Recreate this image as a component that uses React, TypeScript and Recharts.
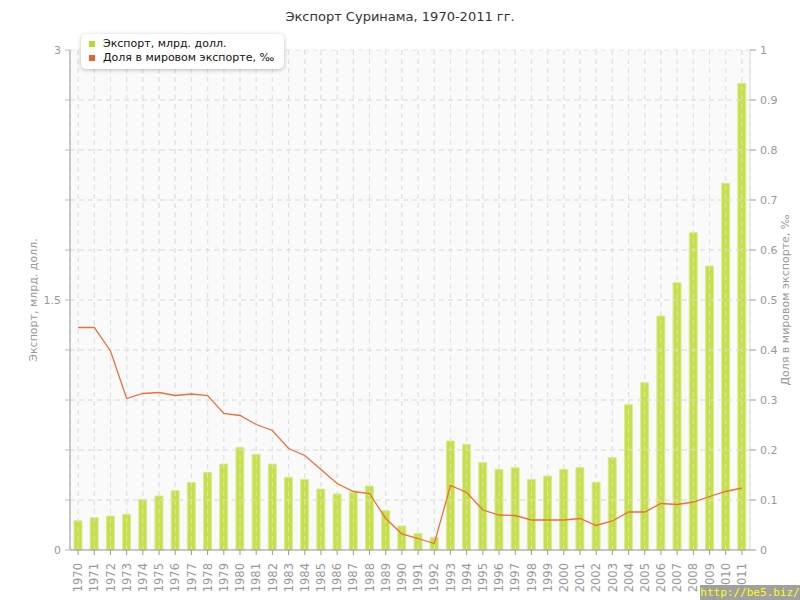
import React from 'react';
import { ComposedChart, Bar, Line, XAxis, YAxis, CartesianGrid, ReferenceLine } from 'recharts';

const years = ['1970','1971','1972','1973','1974','1975','1976','1977','1978','1979','1980','1981','1982','1983','1984','1985','1986','1987','1988','1989','1990','1991','1992','1993','1994','1995','1996','1997','1998','1999','2000','2001','2002','2003','2004','2005','2006','2007','2008','2009','2010','2011'];

const exportVals = [0.175,0.194,0.204,0.214,0.304,0.324,0.356,0.406,0.466,0.516,0.614,0.574,0.516,0.436,0.424,0.366,0.336,0.346,0.384,0.236,0.144,0.1,0.076,0.654,0.634,0.524,0.484,0.494,0.424,0.444,0.484,0.494,0.406,0.554,0.872,1.004,1.404,1.604,1.904,1.704,2.2,2.8];

const shareVals = [0.445,0.445,0.398,0.303,0.313,0.315,0.309,0.312,0.309,0.273,0.269,0.251,0.239,0.203,0.189,0.161,0.133,0.117,0.113,0.063,0.032,0.023,0.013,0.129,0.115,0.08,0.07,0.069,0.06,0.06,0.06,0.063,0.049,0.058,0.076,0.076,0.093,0.091,0.096,0.107,0.117,0.124];

const leftTicks = [0,0.3,0.6,0.9,1.2,1.5,1.8,2.1,2.4,2.7,3];
const leftLabels = [0,1.5,3];
const rightTicks = [0,0.1,0.2,0.3,0.4,0.5,0.6,0.7,0.8,0.9,1];

const data = years.map((y, i) => ({ year: y, exp: exportVals[i], share: shareVals[i] }));

const FONT = '"DejaVu Sans", Verdana, sans-serif';
const GRID = 'rgba(225,225,225,0.85)';

const XTick = (props: any) => {
  const { x, y, payload } = props;
  const ty = y + 6;
  return (
    <text x={x} y={ty} transform={`rotate(-90 ${x} ${ty})`} textAnchor="end" dy="0.36em" fontSize={11.5} fill="#999" fontFamily={FONT}>
      {payload.value}
    </text>
  );
};

export default function App() {
  return (
    <div style={{ position: 'absolute', left: 0, top: 0, width: 800, height: 600, background: '#fff', fontFamily: FONT }}>
      <div style={{ position: 'absolute', top: 9, left: 0, width: 800, textAlign: 'center', fontSize: 13, color: '#333', fontFamily: FONT }}>
        Экспорт Суринама, 1970-2011 гг.
      </div>
      <ComposedChart width={800} height={600} data={data} margin={{ top: 50, right: 0, bottom: 0, left: 0 }}>
        <CartesianGrid yAxisId="left" fill="#fafafa" stroke="#e4e4e4" strokeDasharray="5 4" horizontalValues={leftTicks} />
        <XAxis dataKey="year" interval={0} height={50} tick={<XTick />} tickSize={5} axisLine={{ stroke: '#999' }} tickLine={{ stroke: '#999' }} />
        <YAxis yAxisId="left" orientation="left" width={70} domain={[0, 3]} ticks={leftTicks} interval={0}
          tickFormatter={(v: number) => (leftLabels.includes(v) ? String(v) : '')}
          tick={{ fontSize: 11, fill: '#999', fontFamily: FONT }} tickSize={5} tickMargin={4}
          axisLine={{ stroke: '#999' }} tickLine={{ stroke: '#bbb' }}
          label={{ value: 'Экспорт, млрд. долл.', angle: -90, position: 'insideLeft', offset: 33, style: { textAnchor: 'middle', fontSize: 11, fill: '#999', fontFamily: FONT } }} />
        <YAxis yAxisId="right" orientation="right" width={50} domain={[0, 1]} ticks={rightTicks} interval={0}
          tick={{ fontSize: 11, fill: '#999', fontFamily: FONT }} tickSize={6} tickMargin={4}
          axisLine={{ stroke: '#ddd' }} tickLine={{ stroke: '#999' }}
          label={{ value: 'Доля в мировом экспорте, ‰', angle: -90, position: 'insideRight', offset: 15, style: { textAnchor: 'middle', fontSize: 11, fill: '#999', fontFamily: FONT } }} />
        <Bar yAxisId="left" dataKey="exp" barSize={8} fill="#c6e047" stroke="#d9ec94" strokeWidth={1} isAnimationActive={false} />
        {years.map((y) => (
          <ReferenceLine key={'v' + y} yAxisId="left" x={y} stroke={GRID} strokeDasharray="5 4" />
        ))}
        {leftTicks.slice(1, -1).map((t) => (
          <ReferenceLine key={'h' + t} yAxisId="left" y={t} stroke={GRID} strokeDasharray="5 4" />
        ))}
        <Line yAxisId="right" dataKey="share" type="linear" stroke="#e8703a" strokeWidth={1.3} dot={false} activeDot={false} isAnimationActive={false} />
      </ComposedChart>
      <div style={{ position: 'absolute', top: 34, left: 81, background: '#fff', borderRadius: 5, boxShadow: '0 1px 4px rgba(0,0,0,0.25)', padding: '3px 10px 4px 8px', fontFamily: FONT, fontSize: 11, color: '#111', lineHeight: '14px' }}>
        <div style={{ display: 'flex', alignItems: 'center' }}>
          <span style={{ display: 'inline-block', width: 6, height: 6, background: '#b8d92e', marginRight: 8 }} />
          Экспорт, млрд. долл.
        </div>
        <div style={{ display: 'flex', alignItems: 'center' }}>
          <span style={{ display: 'inline-block', width: 6, height: 6, background: '#e8622c', marginRight: 8 }} />
          Доля в мировом экспорте, ‰
        </div>
      </div>
      <div style={{ position: 'absolute', right: 0, bottom: 0, width: 100, height: 15, background: '#a0a0a0', color: '#ffff00', fontFamily: '"DejaVu Sans Mono", monospace', fontSize: 11, lineHeight: '15px', textAlign: 'center', overflow: 'hidden' }}>
        http://be5.biz/
      </div>
    </div>
  );
}
